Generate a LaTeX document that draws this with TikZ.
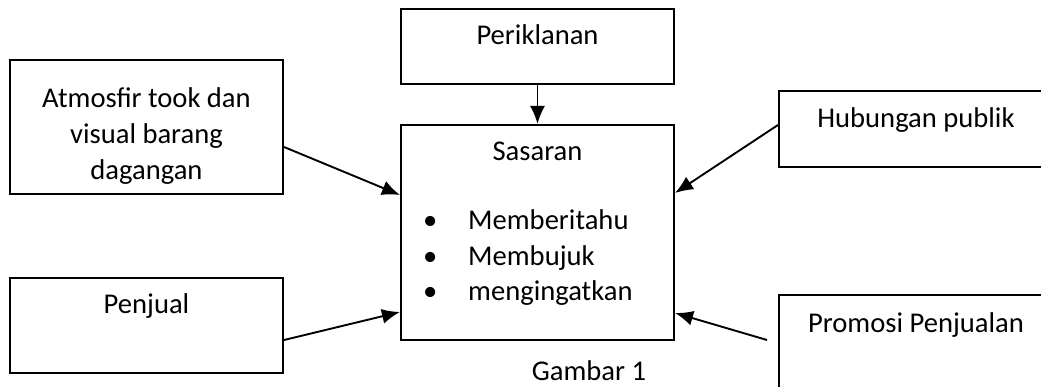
\documentclass[tikz,border=0pt]{standalone}
\usepackage{fontspec}
\setmainfont{Carlito}
\usetikzlibrary{arrows.meta}
\newcommand{\bw}{273pt}
\newcommand{\isi}[3]{\node[teks, anchor=base west] (#1) at (423,#2) {\makebox[45pt][l]{\textbullet}#3};}
\tikzset{
  kotak/.style={draw, line width=2.1pt, minimum width=\bw, inner sep=0pt},
  teks/.style={inner sep=0pt, font=\fontsize{28.6}{36}\selectfont},
  panah/.style={line width=1.9pt, -{Latex[length=18pt,width=15pt]}}
}
\begin{document}
\begin{tikzpicture}[x=1pt,y=-1pt]
  \path[use as bounding box, clip] (0,0) rectangle (1041,387);
  % kotak-kotak
  \node[kotak, minimum height=75pt]  (perik) at (537.5,46.5) {};
  \node[kotak, minimum height=215pt] (sasaran) at (537.5,232.5) {};
  \node[kotak, minimum height=134pt] (atmos) at (146.5,127) {};
  \node[kotak, minimum height=95pt]  (penjual) at (146.5,325.5) {};
  \node[kotak, minimum width=320pt, minimum height=76pt]  (humas) at (939,129) {};
  \node[kotak, minimum width=320pt, minimum height=130pt] (promosi) at (939,360) {};
  % teks
  \node[teks, anchor=base] at ([yshift=-37pt]perik.north) {Periklanan};
  \node[teks, anchor=base] at ([yshift=-37pt]sasaran.north) {Sasaran};
  \node[teks, anchor=base] at ([yshift=-37pt]penjual.north) {Penjual};
  \node[teks, anchor=base] at (916,128) {Hubungan publik};
  \node[teks, anchor=base] at (916,332) {Promosi Penjualan};
  \node[teks, align=center] at (146.5,136) {Atmosfir took dan\\visual barang\\dagangan};
  \isi{i1}{230}{Memberitahu}
  \isi{i2}{265.5}{Membujuk}
  \isi{i3}{301}{mengingatkan}
  \node[teks, anchor=base] (gbr) at (589,380) {Gambar 1};
  % panah
  \coordinate (mulai) at (767,340);
  \draw[panah] (perik.south) -- (sasaran.north);
  \draw[panah] ([yshift=-20pt]atmos.east) -- ([yshift=37.5pt]sasaran.west);
  \draw[panah] ([yshift=-14.5pt]penjual.east) -- ([yshift=-79.5pt]sasaran.west);
  \draw[panah] ([yshift=4pt]humas.west) -- ([yshift=39.5pt]sasaran.east);
  \draw[panah] (mulai) -- ([yshift=-80.5pt]sasaran.east);
\end{tikzpicture}
\end{document}
